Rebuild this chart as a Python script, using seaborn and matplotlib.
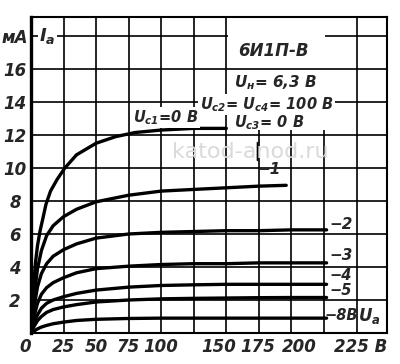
import matplotlib
matplotlib.use("Agg")
import matplotlib.pyplot as plt
import matplotlib.transforms as mtransforms
from matplotlib.patches import Rectangle
import numpy as np
import pandas as pd
import seaborn as sns

# Anode characteristics of the 6I1P-V (heptode part), Ia = f(Ua) for several Uc1
# anode voltage, V / anode current, mA
UA_G0 = [0, 1, 2, 3.5, 5, 7, 9, 11.5, 15, 20, 26, 35, 50, 65, 80, 100, 125, 150]
IA_G0 = [0, 1.6, 2.9, 4.3, 5.3, 6.2, 6.9, 7.8, 8.6, 9.3, 10.0, 10.8, 11.5, 11.9, 12.15, 12.3, 12.4, 12.4]

UA_G1 = [0, 2, 5, 8, 12, 17, 25, 35, 50, 75, 100, 125, 150, 175, 196]
IA_G1 = [0, 2.0, 3.9, 5.0, 5.9, 6.5, 7.05, 7.5, 7.95, 8.35, 8.6, 8.7, 8.8, 8.9, 8.95]

UA_LOW = [0, 2, 5, 8, 12, 17, 25, 35, 50, 75, 100, 125, 150, 175, 200, 227]
IA_G2 = [0, 1.4, 2.8, 3.6, 4.2, 4.65, 5.05, 5.4, 5.75, 6.0, 6.1, 6.15, 6.2, 6.2, 6.25, 6.25]
IA_G3 = [0, 0.9, 1.8, 2.35, 2.75, 3.05, 3.35, 3.65, 3.9, 4.05, 4.15, 4.2, 4.2, 4.25, 4.25, 4.25]
IA_G4 = [0, 0.55, 1.1, 1.5, 1.8, 2.0, 2.2, 2.4, 2.6, 2.78, 2.88, 2.92, 2.95, 2.95, 2.95, 2.95]
IA_G5 = [0, 0.35, 0.75, 1.0, 1.25, 1.42, 1.58, 1.72, 1.88, 2.0, 2.07, 2.1, 2.12, 2.14, 2.15, 2.15]
IA_G8 = [0, 0.1, 0.25, 0.36, 0.46, 0.56, 0.66, 0.76, 0.83, 0.88, 0.9, 0.9, 0.9, 0.9, 0.9, 0.9]

XTICKS = [0, 25, 50, 75, 100, 150, 175, 200]
YTICKS = [2, 4, 6, 8, 10, 12, 14, 16, 18]
YTICK_LABELS = ["2", "4", "6", "8", "10", "12", "14", "16", "мА"]
GRID_X = list(range(25, 275, 25))
GRID_Y = list(range(2, 20, 2))

# hand-lettered tick labels are not exactly centred on the grid (px)
XLABEL_SHIFT = {0: -6, 150: -8, 175: -1, 200: 8}


def build_frame() -> pd.DataFrame:
    curves = [
        (0, UA_G0, IA_G0),
        (-1, UA_G1, IA_G1),
        (-2, UA_LOW, IA_G2),
        (-3, UA_LOW, IA_G3),
        (-4, UA_LOW, IA_G4),
        (-5, UA_LOW, IA_G5),
        (-8, UA_LOW, IA_G8),
    ]
    parts = [pd.DataFrame({"ua": ua, "ia": ia, "ug1": g}) for g, ua, ia in curves]
    return pd.concat(parts, ignore_index=True)


sns.set_style("white")
plt.rcParams["font.family"] = ["DejaVu Sans"]
plt.rcParams["font.style"] = "italic"
plt.rcParams["font.weight"] = "bold"
plt.rcParams["mathtext.fontset"] = "custom"
plt.rcParams["mathtext.it"] = "DejaVu Sans:italic:bold"
plt.rcParams["mathtext.rm"] = "DejaVu Sans:bold"
plt.rcParams["mathtext.bf"] = "DejaVu Sans:bold"

fig = plt.figure(figsize=(4.0, 3.64), dpi=100)
ax = fig.add_axes([31 / 400, 31 / 364, 356 / 400, 316 / 364])
ax.set_xlim(0, 273.4)
ax.set_ylim(0, 19.15)

for gx in GRID_X:
    ax.axvline(gx, color="black", lw=1.2, zorder=1)
for gy in GRID_Y:
    ax.axhline(gy, color="black", lw=1.2, zorder=3 if gy == 16 else 1)

# blank area behind the tube data
ax.add_patch(Rectangle((151, 12.3), 74.5, 6.8, facecolor="white", edgecolor="none", zorder=2))

df = build_frame()
sns.lineplot(data=df, x="ua", y="ia", units="ug1", estimator=None, sort=False,
             color="black", lw=2.4, ax=ax, zorder=4, legend=False)

for side in ["top", "right", "bottom"]:
    ax.spines[side].set_linewidth(1.5)
ax.spines["left"].set_linewidth(2.4)
for sp in ax.spines.values():
    sp.set_color("black")
    sp.set_zorder(5)

ax.set_xlabel("")
ax.set_ylabel("")
ax.set_xticks(XTICKS)
ax.set_xticklabels([str(v) for v in XTICKS], fontsize=12)
ax.set_yticks(YTICKS)
ax.set_yticklabels(YTICK_LABELS, fontsize=12)
ax.tick_params(axis="both", length=0)
ax.tick_params(axis="x", pad=3.5)
ax.tick_params(axis="y", pad=11.5)
for lbl in ax.get_yticklabels():
    lbl.set_ha("center")
for v, lbl in zip(XTICKS, ax.get_xticklabels()):
    if v in XLABEL_SHIFT:
        lbl.set_transform(lbl.get_transform() + mtransforms.ScaledTranslation(
            XLABEL_SHIFT[v] / 100, 0, fig.dpi_scale_trans))

ax.annotate("225 В", xy=(225, 0), xycoords=("data", "axes fraction"),
            xytext=(7, -3.5), textcoords="offset points", ha="left", va="top",
            fontsize=12, annotation_clip=False)

white = dict(facecolor="white", edgecolor="none", pad=1.0)
ax.text(6.5, 18, "$I_а$", fontsize=13, ha="left", va="center", bbox=white, zorder=6)

# tube name and operating conditions
ax.text(186, 17.1, "6И1П-В", fontsize=12, ha="center", va="center", zorder=6)
ax.text(188, 15.2, "$U_н$= 6,3 В", fontsize=11, ha="center", va="center", zorder=6)
ax.text(181, 13.85, "$U_{с2}$= $U_{с4}$= 100 В", fontsize=10.5, ha="center", va="center",
        bbox=white, zorder=6)
ax.text(183, 12.75, "$U_{с3}$= 0 В", fontsize=10.5, ha="center", va="center", zorder=6)

# curve labels
ax.text(78.5, 13.05, "$U_{с1}$=0 В", fontsize=10.5, ha="left", va="center", bbox=white, zorder=6)
ax.annotate("", xy=(174, 10.3), xytext=(174, 11.7),
            arrowprops=dict(arrowstyle="-", lw=1.3, color="black"), zorder=6)
ax.text(174, 9.9, "−1", fontsize=11, ha="left", va="center", zorder=6)
ax.text(229, 6.6, "−2", fontsize=11, ha="left", va="center", zorder=6)
ax.text(229, 4.67, "−3", fontsize=11, ha="left", va="center", zorder=6)
ax.text(229, 3.5, "−4", fontsize=10.5, ha="left", va="center", zorder=6)
ax.text(229, 2.55, "−5", fontsize=10.5, ha="left", va="center", zorder=6)
ax.text(225, 1.05, "−8В", fontsize=10.5, ha="left", va="center", zorder=6)
ax.text(251.5, 1.05, "$U_а$", fontsize=12, ha="left", va="center", zorder=6)

fig.text(0.625, 0.582, "katod-anod.ru", color="#dadada", fontsize=16,
         fontstyle="normal", fontweight="normal", ha="center", va="center", zorder=10)

fig.savefig("out.png", dpi=100, facecolor="white")
